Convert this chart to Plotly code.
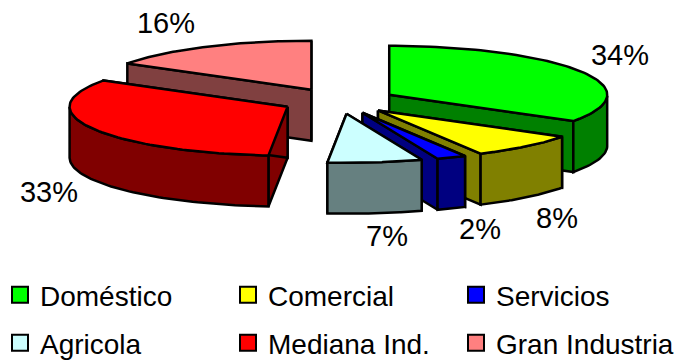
import numpy as np
import plotly.graph_objects as go

categories = ["Doméstico", "Comercial", "Servicios", "Agricola", "Mediana Ind.", "Gran Industria"]
shares = [34.0, 8.2, 2.2, 7.0, 32.6, 16.0]
top_colors = ["#00FF00", "#FFFF00", "#0000FF", "#CCFFFF", "#FF0000", "#FF8080"]
wall_colors = ["#008000", "#808000", "#000080", "#668080", "#800000", "#804040"]
label_xy = [(620, 58), (557, 221), (480, 232), (387, 239), (49, 195), (166, 26)]
paint_order = [5, 0, 4, 1, 2, 3]

CX, CY, RX, RY, DEPTH, EXPLODE = 339, 101, 218, 49, 51, 0.263
FONT = "Liberation Sans, Arial, sans-serif"

fracs = np.array(shares) / sum(shares)
ends = np.cumsum(fracs) * 2 * np.pi
starts = ends - fracs * 2 * np.pi


def poly(xs, ys, fill, name):
    return go.Scatter(x=list(xs) + [xs[0]], y=list(ys) + [ys[0]], mode="lines", fill="toself",
                      fillcolor=fill, line=dict(color="black", width=2.5), showlegend=False,
                      hoverinfo="skip", name=name)


fig = go.Figure()
for i in paint_order:
    a0, a1 = starts[i], ends[i]
    mid = (a0 + a1) / 2
    ax = CX + EXPLODE * RX * np.sin(mid)
    ay = CY - EXPLODE * RY * np.cos(mid)
    t = np.linspace(a0, a1, 80)
    arc_x = ax + RX * np.sin(t)
    arc_y = ay - RY * np.cos(t)
    for a in (a0, a1):
        px = ax + RX * np.sin(a)
        py = ay - RY * np.cos(a)
        fig.add_trace(poly([ax, px, px, ax], [ay, py, py + DEPTH, ay + DEPTH], wall_colors[i], categories[i]))
    # outer wall: only the part of the rim that faces the viewer
    front = (t > np.pi / 2) & (t < 3 * np.pi / 2)
    if front.any():
        fx, fy = arc_x[front], arc_y[front]
        fig.add_trace(poly(list(fx) + list(fx[::-1]), list(fy) + list(fy[::-1] + DEPTH),
                           wall_colors[i], categories[i]))
    fig.add_trace(poly([ax] + list(arc_x), [ay] + list(arc_y), top_colors[i], categories[i]))

fig.add_trace(go.Scatter(x=[p[0] for p in label_xy], y=[p[1] for p in label_xy],
                         text=[f"{round(v)}%" for v in shares], mode="text", showlegend=False,
                         textfont=dict(family=FONT, size=29, color="black"), hoverinfo="skip"))

for i, (name, color) in enumerate(zip(categories, top_colors)):
    fig.add_trace(go.Scatter(x=[None], y=[None], mode="markers", name=name,
                             legend="legend" if i < 3 else "legend2",
                             marker=dict(symbol="square", size=16, color=color,
                                         line=dict(color="black", width=2))))

legend_style = dict(orientation="h", xanchor="left", yanchor="middle", x=0, entrywidth=183,
                    entrywidthmode="pixels", itemsizing="trace", bgcolor="rgba(0,0,0,0)",
                    font=dict(family=FONT, size=28, color="black"), traceorder="normal")

fig.update_layout(
    width=687, height=361, margin=dict(l=0, r=0, t=0, b=0, autoexpand=False),
    paper_bgcolor="white", plot_bgcolor="white",
    xaxis=dict(range=[0, 687], visible=False, fixedrange=True),
    yaxis=dict(range=[361, 0], visible=False, fixedrange=True),
    legend=dict(y=1 - 295 / 361, **legend_style),
    legend2=dict(y=1 - 343 / 361, **legend_style),
)
fig.write_html("out.html", config=dict(displayModeBar=False),
               post_script="document.body.style.margin='0';document.documentElement.style.overflow='hidden';")
